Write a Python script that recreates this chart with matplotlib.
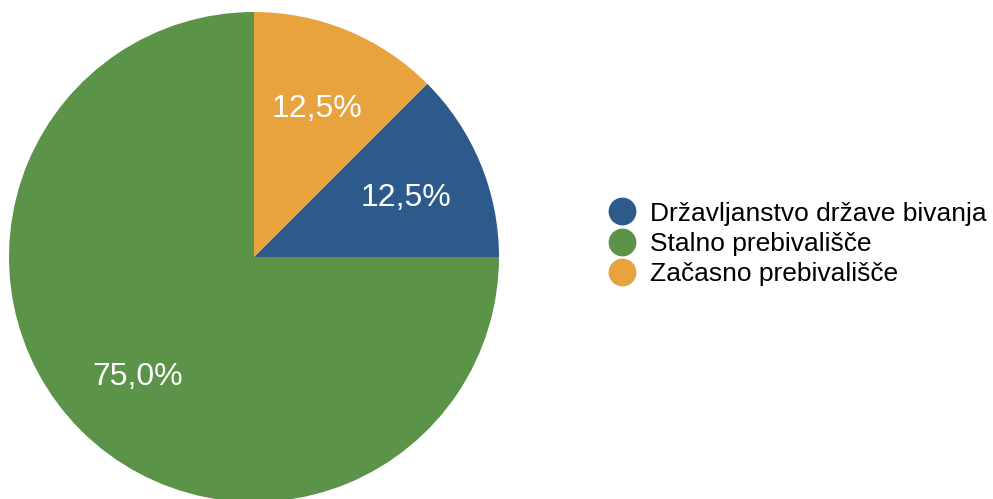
import matplotlib
matplotlib.use("Agg")
import matplotlib.pyplot as plt
import matplotlib.transforms as mtransforms
from matplotlib.lines import Line2D

plt.rcParams['font.family'] = ['Liberation Sans', 'DejaVu Sans']

categories = ["Državljanstvo države bivanja", "Stalno prebivališče", "Začasno prebivališče"]
shares = [12.5, 75.0, 12.5]
colors = ["#2E5A8B", "#5B9449", "#E8A23E"]

W, H = 993, 499
fig = plt.figure(figsize=(W / 100, H / 100), dpi=100)

# pie axes: centre at (254, 257) px, radius 245 px
cx, cy, r = 254, 257, 245
ax = fig.add_axes([(cx - r) / W, (H - cy - r) / H, 2 * r / W, 2 * r / H])
wedges, texts, autotexts = ax.pie(
    shares, colors=colors, startangle=45, counterclock=False,
    autopct=lambda p: f"{p:.1f}%".replace(".", ","), pctdistance=0.67,
    wedgeprops=dict(linewidth=0),
    textprops=dict(color="white", fontsize=23),
)
ax.set_xlim(-1, 1)
ax.set_ylim(-1, 1)
ax.set_aspect("equal")
for w in wedges:
    w.set_clip_on(False)

# nudge the percentage labels slightly downward
shift = mtransforms.ScaledTranslation(0, -4 / 100, fig.dpi_scale_trans)
for t in autotexts:
    t.set_transform(t.get_transform() + shift)

handles = [Line2D([], [], marker="o", linestyle="", markersize=19,
                  markerfacecolor=c, markeredgecolor=c) for c in colors]
fig.legend(handles, categories, loc="center left",
           bbox_to_anchor=(606 / W, 1 - 244 / H), frameon=False,
           fontsize=19, handletextpad=0.47, labelspacing=0.24,
           handlelength=1.2, borderaxespad=0, borderpad=0)

fig.savefig("out.png", dpi=100)
